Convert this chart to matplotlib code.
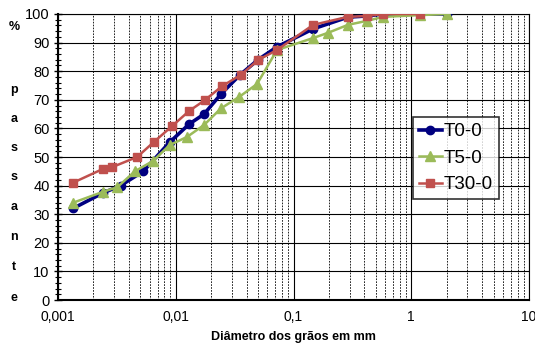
import numpy as np
import matplotlib
matplotlib.use("Agg")
import matplotlib.pyplot as plt
from matplotlib.ticker import FixedLocator, MultipleLocator, FuncFormatter

plt.rcParams['font.family'] = ['Liberation Sans', 'DejaVu Sans']

# grain diameter (mm) and % passing
d_t0 = [0.00134, 0.0024, 0.0034, 0.0053, 0.0089, 0.013, 0.0174, 0.0242, 0.0351,
        0.050, 0.0724, 0.147, 0.29, 0.42, 0.58, 1.18, 2.0]
p_t0 = [32, 37.4, 40, 45, 55.2, 61.5, 65, 72, 78.7, 84, 88.5, 94.8, 98.9, 99.3, 100, 100, 100]

d_t5 = [0.00134, 0.0024, 0.0032, 0.0045, 0.0064, 0.0089, 0.01245, 0.0174, 0.0242,
        0.0345, 0.049, 0.0724, 0.147, 0.196, 0.29, 0.42, 0.58, 1.18, 2.0]
p_t5 = [34, 37.8, 39.5, 45, 48.6, 54.2, 57, 61.2, 67, 71, 75.5, 87.4, 91.6, 93.4,
        96.2, 97.6, 99, 99.6, 100]

d_t30 = [0.00134, 0.0024, 0.0029, 0.0047, 0.0065, 0.0093, 0.013, 0.0177, 0.0248,
         0.0357, 0.050, 0.0724, 0.147, 0.29, 0.42, 0.58, 1.18]
p_t30 = [41, 45.8, 46.5, 50, 55.2, 60.8, 66.1, 69.9, 74.8, 78.7, 83.9, 87.4, 96.2,
         99, 99.3, 100, 100]

x_ticks = [0.001, 0.01, 0.1, 1, 10]
x_labels = ["0,001", "0,01", "0,1", "1", "10"]

fig = plt.figure(figsize=(5.35, 3.47), dpi=100)
ax = fig.add_axes([0.1084, 0.1354, 0.8804, 0.8243])

ax.plot(d_t0, p_t0, color="#000080", lw=2.6, marker="o", ms=6, label="T0-0", zorder=3)
ax.plot(d_t5, p_t5, color="#9BBB59", lw=1.8, marker="^", ms=6.5, label="T5-0", zorder=4)
ax.plot(d_t30, p_t30, color="#C0504D", lw=1.8, marker="s", ms=6.2, label="T30-0", zorder=5)

ax.set_xscale("log")
ax.set_xlim(0.001, 10)
ax.set_ylim(0, 100)
ax.set_xticks(x_ticks)
ax.set_xticklabels(x_labels)
minors = [m * 10.0 ** e for e in range(-3, 1) for m in range(2, 10)]
ax.xaxis.set_minor_locator(FixedLocator(minors))
ax.xaxis.set_minor_formatter(FuncFormatter(lambda v, p: ""))
ax.yaxis.set_major_locator(MultipleLocator(10))
ax.yaxis.set_minor_locator(MultipleLocator(2))

ax.grid(True, which="major", axis="both", color="black", lw=0.8, ls="-")
ax.grid(True, which="minor", axis="x", color="black", lw=0.6, ls=(0, (2, 1.5)))
ax.tick_params(axis="x", which="both", length=0, labelsize=10, pad=7)
ax.tick_params(axis="y", which="major", direction="inout", length=6, width=1, labelsize=10.5, pad=3)
ax.tick_params(axis="y", which="minor", direction="inout", length=4, width=0.8)
for s in ax.spines.values():
    s.set_color("black")
ax.spines["left"].set_linewidth(1.5)
ax.spines["bottom"].set_linewidth(1.5)
ax.spines["right"].set_linewidth(0.8)
ax.spines["top"].set_linewidth(0.8)

ax.set_xlabel("Diâmetro dos grãos em mm", fontsize=9, fontweight="bold", labelpad=5)

# vertical stacked y label
ylab = ["%", "p", "a", "s", "s", "a", "n", "t", "e"]
ypix = [27, 90, 119, 148, 177, 207, 237, 267, 298]
for ch, yp in zip(ylab, ypix):
    fig.text(14 / 535, 1 - yp / 347, ch, fontsize=9, fontweight="bold",
             ha="center", va="center")

leg = ax.legend(loc="upper left", bbox_to_anchor=((413 - 58) / 471, (300 - 117) / 286),
                fontsize=13.5, frameon=True, fancybox=False, edgecolor="black",
                handlelength=1.2, handletextpad=0.1, borderpad=0.32, labelspacing=0.5,
                borderaxespad=0)
leg.get_frame().set_linewidth(1.2)

fig.savefig("out.png", dpi=100)
